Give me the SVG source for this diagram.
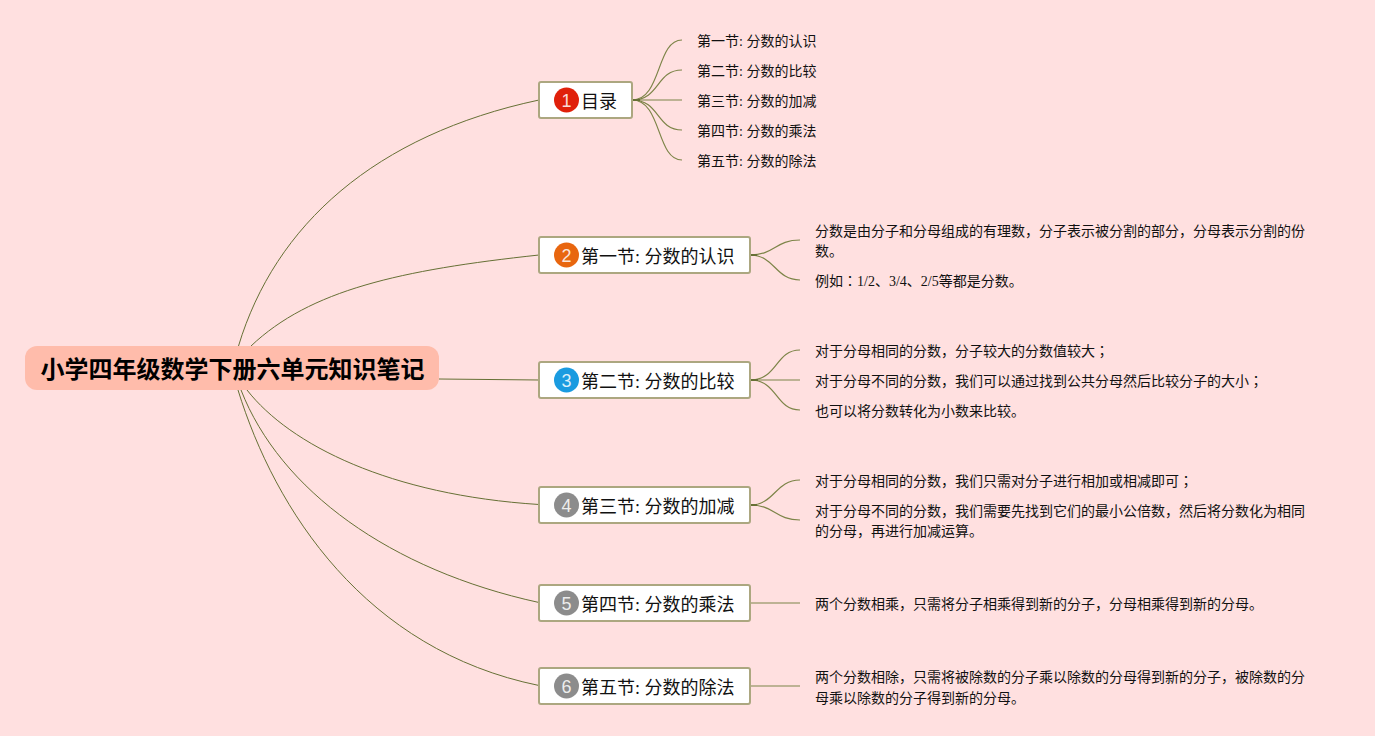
<svg xmlns="http://www.w3.org/2000/svg" width="1375" height="736" viewBox="0 0 1375 736">
<style>
text{font-family:"Liberation Serif","Noto Sans CJK SC",sans-serif;fill:#111}
.leaf{font-size:14px}
.br{font-size:18px}
.root{font-size:24px;font-weight:700;font-family:"Liberation Sans","Noto Sans CJK SC",sans-serif;fill:#000}
.box{fill:#fff;stroke:#aca780;stroke-width:2}
.num{font-family:"Liberation Sans",sans-serif;font-size:18px;fill:#fff;text-anchor:middle;fill-opacity:.85}
.c{fill:none;stroke:#667035;stroke-width:1}
.s{fill:none;stroke:#7d8448;stroke-width:1.2}
.t{fill:none;stroke:#667035;stroke-width:2}
.p{font-family:"Noto Sans CJK JP",sans-serif}
</style>
<rect width="1375" height="736" fill="#ffe0e0"/>
<g id="connectors">
<path class="c" d="M238.500 346C275 225 375 135 539 100"/>
<path class="c" d="M251 346C310 290 400 270 539 255"/>
<path class="c" d="M439 379L539 380"/>
<path class="c" d="M247 390C290 445 390 495 539 504.500"/>
<path class="c" d="M241 390C280 490 390 570 539 602.500"/>
<path class="c" d="M238 390C275 510 365 650 539 685.500"/>
<path class="s" d="M632 100C662 100 656 40 682 40"/>
<path class="s" d="M632 100C660 100 656 70 682 70"/>
<path class="s" d="M632 100H682"/>
<path class="s" d="M632 100C660 100 656 130 682 130"/>
<path class="s" d="M632 100C662 100 656 160 682 160"/>
<path class="t" d="M632 100H640"/>
<path class="s" d="M750 255C775 255 775 240 800 240"/>
<path class="s" d="M750 255C775 255 775 280 800 280"/>
<path class="t" d="M750 255H757"/>
<path class="s" d="M750 380C778 380 775 350 800 350"/>
<path class="s" d="M750 380H800"/>
<path class="s" d="M750 380C778 380 775 410 800 410"/>
<path class="t" d="M750 380H758"/>
<path class="s" d="M750 505C775 505 775 480 800 480"/>
<path class="s" d="M750 505C775 505 775 520 800 520"/>
<path class="t" d="M750 505H757"/>
<path class="s" d="M750 603H800"/>
<path class="s" d="M750 686H800"/>
</g>
<g id="root"><rect x="25" y="346" width="414" height="44" rx="12" fill="#ffbcab"/><text class="root" x="40.500" y="378">小学四年级数学下册六单元知识笔记</text></g>
<g id="n1"><rect class="box" x="539" y="82" width="93" height="36" rx="2"/><circle cx="566.500" cy="100" r="12.500" fill="#e0200a"/><text class="num" x="566.500" y="106.500">1</text><text class="br" x="581" y="108">目录</text></g>
<g id="n2"><rect class="box" x="539" y="237" width="211" height="36" rx="2"/><circle cx="566.500" cy="255" r="12.500" fill="#e8660f"/><text class="num" x="566.500" y="261.500">2</text><text class="br" x="581" y="263">第一节: 分数的认识</text></g>
<g id="n3"><rect class="box" x="539" y="362" width="211" height="36" rx="2"/><circle cx="566.500" cy="380" r="12.500" fill="#1a9be0"/><text class="num" x="566.500" y="386.500">3</text><text class="br" x="581" y="388">第二节: 分数的比较</text></g>
<g id="n4"><rect class="box" x="539" y="487" width="211" height="36" rx="2"/><circle cx="566.500" cy="505" r="12.500" fill="#8c8c8c"/><text class="num" x="566.500" y="511.500">4</text><text class="br" x="581" y="513">第三节: 分数的加减</text></g>
<g id="n5"><rect class="box" x="539" y="585" width="211" height="36" rx="2"/><circle cx="566.500" cy="603" r="12.500" fill="#8c8c8c"/><text class="num" x="566.500" y="609.500">5</text><text class="br" x="581" y="611">第四节: 分数的乘法</text></g>
<g id="n6"><rect class="box" x="539" y="668" width="211" height="36" rx="2"/><circle cx="566.500" cy="686" r="12.500" fill="#8c8c8c"/><text class="num" x="566.500" y="692.500">6</text><text class="br" x="581" y="694">第五节: 分数的除法</text></g>
<g id="l1"><text class="leaf" x="697" y="46">第一节: 分数的认识</text></g>
<g id="l2"><text class="leaf" x="697" y="76">第二节: 分数的比较</text></g>
<g id="l3"><text class="leaf" x="697" y="106">第三节: 分数的加减</text></g>
<g id="l4"><text class="leaf" x="697" y="136">第四节: 分数的乘法</text></g>
<g id="l5"><text class="leaf" x="697" y="166">第五节: 分数的除法</text></g>
<g id="l6"><text class="leaf" x="815" y="236">分数是由分子和分母组成的有理数，分子表示被分割的部分，分母表示分割的份</text><text class="leaf" x="815" y="256">数。</text></g>
<g id="l7"><text class="leaf" x="815" y="286">例如<tspan class="p">：</tspan>1/2、3/4、2/5等都是分数。</text></g>
<g id="l8"><text class="leaf" x="815" y="356">对于分母相同的分数，分子较大的分数值较大<tspan class="p">；</tspan></text></g>
<g id="l9"><text class="leaf" x="815" y="386">对于分母不同的分数，我们可以通过找到公共分母然后比较分子的大小<tspan class="p">；</tspan></text></g>
<g id="l10"><text class="leaf" x="815" y="416">也可以将分数转化为小数来比较。</text></g>
<g id="l11"><text class="leaf" x="815" y="486">对于分母相同的分数，我们只需对分子进行相加或相减即可<tspan class="p">；</tspan></text></g>
<g id="l12"><text class="leaf" x="815" y="516">对于分母不同的分数，我们需要先找到它们的最小公倍数，然后将分数化为相同</text><text class="leaf" x="815" y="536">的分母，再进行加减运算。</text></g>
<g id="l13"><text class="leaf" x="815" y="609">两个分数相乘，只需将分子相乘得到新的分子，分母相乘得到新的分母。</text></g>
<g id="l14"><text class="leaf" x="815" y="682">两个分数相除，只需将被除数的分子乘以除数的分母得到新的分子，被除数的分</text><text class="leaf" x="815" y="703">母乘以除数的分子得到新的分母。</text></g>
</svg>
